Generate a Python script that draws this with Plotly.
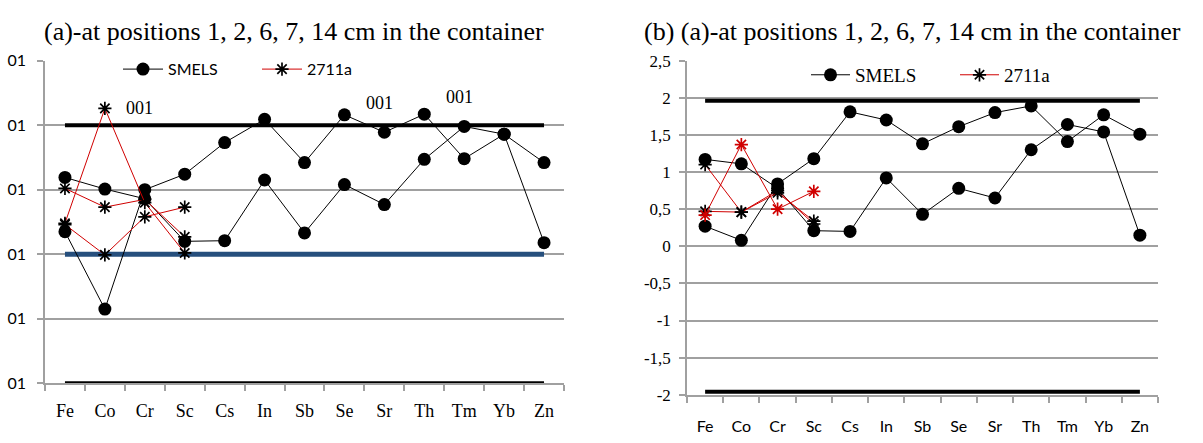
import plotly.graph_objects as go

# ---------------- data ----------------
categories = ["Fe", "Co", "Cr", "Sc", "Cs", "In", "Sb", "Se", "Sr", "Th", "Tm", "Yb", "Zn"]
sub_categories = ["Fe", "Co", "Cr", "Sc"]

# left panel (a)
left_smels_a = [3.19, 3.01, 2.86, 2.20, 2.21, 3.15, 2.33, 3.08, 2.77, 3.47, 3.98, 3.86, 2.18]
left_smels_b = [2.35, 1.15, 3.00, 3.24, 3.73, 4.09, 3.42, 4.16, 3.89, 4.17, 3.48, 3.86, 3.42]
left_2711_a = [3.02, 2.73, 2.85, 2.27]
left_2711_b = [2.46, 1.99, 2.58, 2.73]
left_2711_c = [2.48, 4.26, 2.80, 2.02]
left_upper_limit = [4.0, 4.0, 4.0, 4.0, 4.0, 4.0, 4.0, 4.0, 4.0, 4.0, 4.0, 4.0, 4.0]
left_mid_limit = [2.0, 2.0, 2.0, 2.0, 2.0, 2.0, 2.0, 2.0, 2.0, 2.0, 2.0, 2.0, 2.0]
left_lower_limit = [0.0, 0.0, 0.0, 0.0, 0.0, 0.0, 0.0, 0.0, 0.0, 0.0, 0.0, 0.0, 0.0]
left_tick_vals = [0, 1, 2, 3, 4, 5]
left_tick_text = ["01", "01", "01", "01", "01", "01"]
left_point_labels = [("Co", 4.26, "001"), ("Se", 4.16, "001"), ("Th", 4.17, "001")]

# right panel (b)
right_smels_a = [1.17, 1.11, 0.78, 0.21, 0.20, 0.92, 0.43, 0.78, 0.65, 1.30, 1.64, 1.54, 0.15]
right_smels_b = [0.27, 0.08, 0.84, 1.18, 1.81, 1.70, 1.38, 1.61, 1.80, 1.89, 1.41, 1.77, 1.51]
right_2711_a = [1.10, 0.46, 0.75, 0.30]
right_2711_b = [0.47, 0.46, 0.72, 0.34]
right_2711_red = [0.42, 1.37, 0.50, 0.74]
right_upper_limit = [1.96, 1.96, 1.96, 1.96, 1.96, 1.96, 1.96, 1.96, 1.96, 1.96, 1.96, 1.96, 1.96]
right_lower_limit = [-1.96, -1.96, -1.96, -1.96, -1.96, -1.96, -1.96, -1.96, -1.96, -1.96, -1.96, -1.96, -1.96]
right_tick_vals = [-2, -1.5, -1, -0.5, 0, 0.5, 1, 1.5, 2, 2.5]
right_tick_text = ["-2", "-1,5", "-1", "-0,5", "0", "0,5", "1", "1,5", "2", "2,5"]

title_left = "(a)-at positions 1, 2, 6, 7, 14 cm in the container"
title_right = "(b) (a)-at positions 1, 2, 6, 7, 14 cm in the container"

# ---------------- styles ----------------
W, H = 1203, 443
SERIF = "Liberation Serif, Times New Roman, serif"
SANS = "Lato, Carlito, Liberation Sans, sans-serif"
GRID = "#a0a0a0"
BLACK = "#000000"
RED = "#d00000"
BLUE = "#264f7d"


def px_x(p):
    return p / W


def px_y(p):
    return 1 - p / H


fig = go.Figure()


def limit_line(y, color, width, xa, ya):
    fig.add_trace(go.Scatter(x=categories, y=y, mode="lines",
                             line=dict(color=color, width=width),
                             showlegend=False, hoverinfo="skip",
                             xaxis=xa, yaxis=ya))


def smels(y, xa, ya, show, legend):
    fig.add_trace(go.Scatter(x=categories, y=y, mode="lines+markers", name="SMELS",
                             line=dict(color=BLACK, width=1),
                             marker=dict(symbol="circle", size=13, color=BLACK),
                             showlegend=show, legend=legend, xaxis=xa, yaxis=ya))


def ref2711(y, xa, ya, show, legend, mcolor=BLACK):
    fig.add_trace(go.Scatter(x=sub_categories, y=y, mode="lines+markers", name="2711a",
                             line=dict(color=RED, width=1),
                             marker=dict(symbol="asterisk-open", size=11,
                                         color=mcolor, line=dict(color=mcolor, width=1.7)),
                             showlegend=show, legend=legend, xaxis=xa, yaxis=ya))


# left panel
limit_line(left_upper_limit, BLACK, 4, "x", "y")
limit_line(left_mid_limit, BLUE, 5, "x", "y")
limit_line(left_lower_limit, BLACK, 4, "x", "y")
smels(left_smels_a, "x", "y", True, "legend")
smels(left_smels_b, "x", "y", False, "legend")
ref2711(left_2711_a, "x", "y", True, "legend")
ref2711(left_2711_b, "x", "y", False, "legend")
ref2711(left_2711_c, "x", "y", False, "legend")

# right panel
limit_line(right_upper_limit, BLACK, 4, "x2", "y2")
limit_line(right_lower_limit, BLACK, 4, "x2", "y2")
smels(right_smels_a, "x2", "y2", True, "legend2")
smels(right_smels_b, "x2", "y2", False, "legend2")
ref2711(right_2711_a, "x2", "y2", True, "legend2")
ref2711(right_2711_b, "x2", "y2", False, "legend2")
ref2711(right_2711_red, "x2", "y2", False, "legend2", mcolor=RED)

common_x = dict(type="category", categoryorder="array", categoryarray=categories,
                range=[-0.5, len(categories) - 0.5], showgrid=False, zeroline=False,
                showline=True, linecolor=GRID, linewidth=1.5,
                ticks="outside", tickson="boundaries", ticklen=6, tickcolor=GRID, tickwidth=1.5)
common_y = dict(showgrid=True, gridcolor=GRID, gridwidth=1.5, zeroline=False,
                showline=True, linecolor=GRID, linewidth=1.5,
                ticks="outside", ticklen=6, tickcolor=GRID, tickwidth=1.5)

fig.update_layout(
    width=W, height=H,
    margin=dict(l=0, r=0, t=0, b=0),
    paper_bgcolor="white", plot_bgcolor="white",
    xaxis=dict(common_x, domain=[px_x(45), px_x(564)], anchor="y",
               ticklabelstandoff=10,
               tickfont=dict(family=SERIF, size=18, color="#000")),
    yaxis=dict(common_y, domain=[px_y(391), px_y(53)], anchor="x",
               range=[0, 5], tickvals=left_tick_vals, ticktext=left_tick_text,
               ticklabelstandoff=8,
               tickfont=dict(family=SANS, size=16, color="#000")),
    xaxis2=dict(common_x, domain=[px_x(687), px_x(1158)], anchor="y2",
                ticklabelstandoff=16,
                tickfont=dict(family=SANS, size=16, color="#000")),
    yaxis2=dict(common_y, domain=[px_y(403), px_y(53)], anchor="x2",
                range=[-2, 2.5], tickvals=right_tick_vals, ticktext=right_tick_text,
                ticklabelstandoff=5,
                tickfont=dict(family=SERIF, size=17, color="#000")),
    legend=dict(orientation="h", x=px_x(118), y=px_y(62), xanchor="left", yanchor="middle",
                font=dict(family=SANS, size=16, color="#000"), bgcolor="rgba(0,0,0,0)",
                itemwidth=40, entrywidth=84, entrywidthmode="pixels", tracegroupgap=0),
    legend2=dict(orientation="h", x=px_x(806), y=px_y(68), xanchor="left", yanchor="middle",
                 font=dict(family=SERIF, size=19, color="#000"), bgcolor="rgba(0,0,0,0)",
                 itemwidth=39, entrywidth=95, entrywidthmode="pixels", tracegroupgap=0),
    showlegend=True,
)

annotations = [
    dict(text=title_left, x=px_x(294), y=px_y(22), xref="paper", yref="paper",
         showarrow=False, font=dict(family=SERIF, size=26, color="#000"),
         xanchor="center", yanchor="middle"),
    dict(text=title_right, x=px_x(912), y=px_y(22), xref="paper", yref="paper",
         showarrow=False, font=dict(family=SERIF, size=26, color="#000"),
         xanchor="center", yanchor="middle"),
]
label_shifts = [(35, 0), (35, 12), (35, 17)]
for (cat, val, txt), (dx, dy) in zip(left_point_labels, label_shifts):
    annotations.append(dict(text=txt, x=cat, y=val, xref="x", yref="y", showarrow=False,
                            xshift=dx, yshift=dy,
                            font=dict(family=SERIF, size=18, color="#000")))
fig.update_layout(annotations=annotations)

fig.write_html("out.html")
